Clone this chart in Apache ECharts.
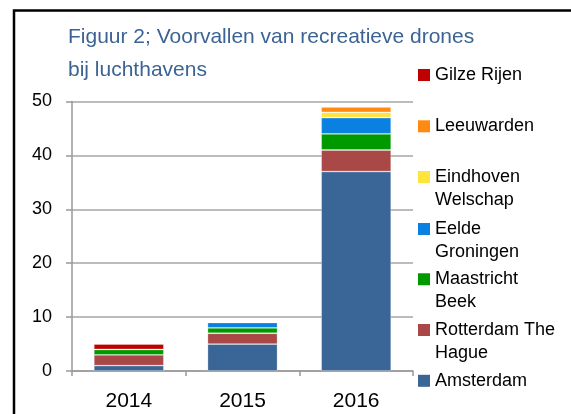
<!DOCTYPE html>
<html>
<head>
<meta charset="utf-8">
<script src="https://cdn.jsdelivr.net/npm/echarts@6/dist/echarts.min.js"></script>
<style>html,body{margin:0;padding:0;background:#fff}#c{width:571px;height:414px}</style>
</head>
<body>
<div id="c"></div>
<script>
const years = ['2014', '2015', '2016'];
const amsterdam = [1, 5, 37];
const rotterdam = [2, 2, 4];
const maastricht = [1, 1, 3];
const eelde = [0, 1, 3];
const eindhoven = [0, 0, 1];
const leeuwarden = [0, 0, 1];
const gilze = [1, 0, 0];
const yTicks = [0, 10, 20, 30, 40, 50];

const FONT = "'Liberation Sans', Arial, sans-serif";
const seriesDefs = [
  {name: 'Amsterdam', data: amsterdam, color: '#3A6597', legendTop: 369.3, lines: ['Amsterdam']},
  {name: 'Rotterdam The Hague', data: rotterdam, color: '#A94846', legendTop: 318.5, lines: ['Rotterdam The', 'Hague']},
  {name: 'Maastricht Beek', data: maastricht, color: '#009A00', legendTop: 267.8, lines: ['Maastricht', 'Beek']},
  {name: 'Eelde Groningen', data: eelde, color: '#0A80E0', legendTop: 217.5, lines: ['Eelde', 'Groningen']},
  {name: 'Eindhoven Welschap', data: eindhoven, color: '#FFE53B', legendTop: 165.5, lines: ['Eindhoven', 'Welschap']},
  {name: 'Leeuwarden', data: leeuwarden, color: '#FF8A12', legendTop: 114.8, lines: ['Leeuwarden']},
  {name: 'Gilze Rijen', data: gilze, color: '#C00000', legendTop: 63.5, lines: ['Gilze Rijen']}
];

const series = seriesDefs.map(s => ({
  name: s.name,
  type: 'bar',
  stack: 'total',
  barWidth: 70,
  data: s.data,
  itemStyle: {color: s.color, borderColor: 'rgba(255,255,255,0.35)', borderWidth: 0.8},
  emphasis: {disabled: true}
}));

const legends = seriesDefs.map(s => {
  const two = s.lines.length > 1;
  return {
    data: [s.name],
    left: 418,
    top: s.legendTop,
    padding: 0,
    itemWidth: 12,
    itemHeight: two ? 35 : 12,
    itemGap: 0,
    icon: two ? 'path://M0,0L12,0L12,12L0,12Z M0,35L0.001,35' : 'rect',
    itemStyle: {borderWidth: 0},
    formatter: () => s.lines.join('\n'),
    textStyle: {fontFamily: FONT, fontSize: 18, lineHeight: 23, color: '#000', padding: [0, 0, 0, 0]},
    selectedMode: false
  };
});

const chart = echarts.init(document.getElementById('c'), null, {renderer: 'canvas'});
chart.setOption({
  animation: false,
  title: {
    text: 'Figuur 2; Voorvallen van recreatieve drones\nbij luchthavens',
    left: 68,
    top: 21,
    padding: 0,
    textStyle: {fontFamily: FONT, fontSize: 21, lineHeight: 33, fontWeight: 'normal', color: '#3B6494'}
  },
  legend: legends,
  grid: {left: 72, right: 158, top: 101.5, bottom: 43},
  xAxis: {
    type: 'category',
    data: years,
    axisLine: {show: true, lineStyle: {color: '#999', width: 1.5}},
    axisTick: {show: true, length: 5, lineStyle: {color: '#999', width: 1.5}},
    axisLabel: {fontFamily: FONT, fontSize: 21, color: '#000', margin: 20}
  },
  yAxis: {
    type: 'value',
    min: yTicks[0],
    max: yTicks[yTicks.length - 1],
    interval: 10,
    axisLine: {show: true, lineStyle: {color: '#999', width: 1.5}},
    axisTick: {show: true, length: 6, lineStyle: {color: '#999', width: 1.5}},
    splitLine: {show: true, lineStyle: {color: '#a6a6a6', width: 1.5}},
    axisLabel: {fontFamily: FONT, fontSize: 18, color: '#000', margin: 20}
  },
  graphic: [{
    type: 'rect',
    shape: {x: 14, y: 10.5, width: 700, height: 600},
    style: {fill: 'none', stroke: '#000', lineWidth: 2.5},
    silent: true
  }],
  series: series
});
</script>
</body>
</html>
